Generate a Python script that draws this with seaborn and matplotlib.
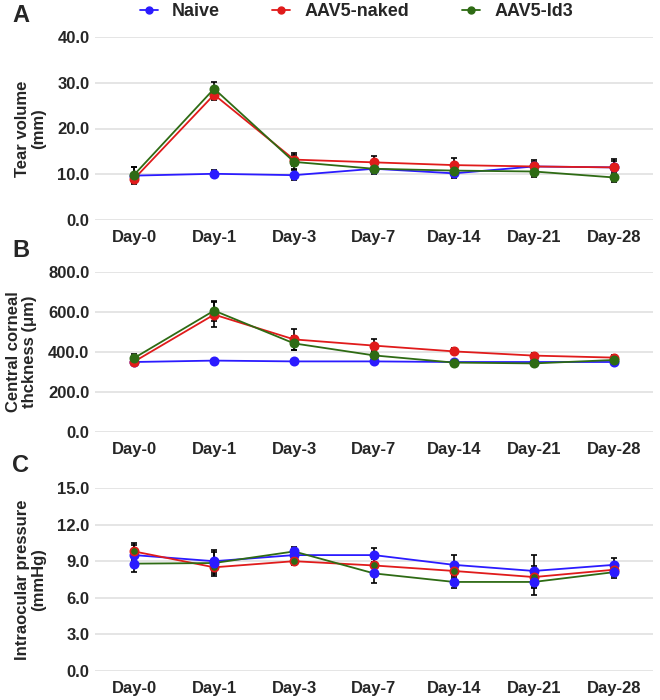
import numpy as np
import pandas as pd
import matplotlib
matplotlib.use("Agg")
import matplotlib.pyplot as plt
import seaborn as sns
from matplotlib.lines import Line2D

sns.set_theme(style="white")
plt.rcParams['font.family'] = ['Liberation Sans Narrow', 'Liberation Sans', 'DejaVu Sans']

dias = ["Day-0", "Day-1", "Day-3", "Day-7", "Day-14", "Day-21", "Day-28"]
grupos = ["Naive", "AAV5-naked", "AAV5-Id3"]

# Panel A - tear volume
tear_naive = [9.7, 10.1, 9.8, 11.2, 10.2, 11.7, 11.5]
tear_naked = [9.0, 27.4, 13.2, 12.6, 12.0, 11.7, 11.5]
tear_id3 = [9.9, 28.7, 12.7, 11.2, 10.8, 10.6, 9.3]
tear_naive_err = [1.9, 0.8, 1.1, 1.2, 1.0, 1.4, 1.8]
tear_naked_err = [0.9, 1.2, 1.4, 1.4, 1.6, 1.0, 1.4]
tear_id3_err = [1.6, 1.5, 1.6, 1.0, 0.9, 1.3, 1.1]

# Panel B - central corneal thickness
cct_naive = [350, 357, 353, 353, 350, 350, 350]
cct_naked = [352, 587, 463, 432, 403, 382, 372]
cct_id3 = [370, 607, 443, 383, 347, 343, 360]
cct_naive_err = [10, 8, 12, 12, 10, 10, 12]
cct_naked_err = [12, 64, 52, 33, 15, 14, 14]
cct_id3_err = [22, 50, 35, 20, 10, 14, 12]

# Panel C - intraocular pressure
iop_naive = [9.5, 9.0, 9.5, 9.5, 8.7, 8.2, 8.7]
iop_naked = [9.8, 8.5, 9.0, 8.65, 8.2, 7.7, 8.3]
iop_id3 = [8.8, 8.85, 9.8, 8.0, 7.3, 7.3, 8.1]
iop_naive_err = [0.8, 0.9, 0.4, 0.6, 0.8, 1.3, 0.6]
iop_naked_err = [0.7, 0.7, 0.3, 0.5, 0.6, 0.9, 0.5]
iop_id3_err = [0.7, 0.9, 0.4, 0.8, 0.5, 1.1, 0.5]

colores = {"Naive": "#2b1bff", "AAV5-naked": "#e01b1b", "AAV5-Id3": "#2e6b14"}

paneles = [
    ("A", "Tear volume\n(mm)", [tear_naive, tear_naked, tear_id3],
     [tear_naive_err, tear_naked_err, tear_id3_err], [0, 10, 20, 30, 40]),
    ("B", "Central corneal\nthckness (\u03bcm)", [cct_naive, cct_naked, cct_id3],
     [cct_naive_err, cct_naked_err, cct_id3_err], [0, 200, 400, 600, 800]),
    ("C", "Intraocular pressure\n(mmHg)", [iop_naive, iop_naked, iop_id3],
     [iop_naive_err, iop_naked_err, iop_id3_err], [0, 3, 6, 9, 12, 15]),
]

# posiciones de los ejes en pixeles (arriba, abajo)
W, H = 660, 700
cajas = [(37, 220), (272, 432), (488, 671)]
x0, x1 = 95, 653

fig = plt.figure(figsize=(6.6, 7.0), dpi=100)

for (letra, etiqueta, series, errores, ticks), (top, bot) in zip(paneles, cajas):
    ax = fig.add_axes([x0 / W, 1 - bot / H, (x1 - x0) / W, (bot - top) / H])
    xs = np.arange(len(dias))
    for g, vals, errs in zip(grupos, series, errores):
        ax.errorbar(xs, vals, yerr=errs, fmt="none", ecolor="black",
                    elinewidth=1.2, capsize=2, capthick=1.2, zorder=2)
    for g, vals in zip(grupos, series):
        df = pd.DataFrame({"x": xs, "y": vals})
        mface = colores[g]
        medge = colores[g]
        # en el panel C los marcadores vienen cruzados en el original
        if letra == "C" and g == "AAV5-Id3":
            mface = medge = colores["Naive"]
        if letra == "C" and g == "AAV5-naked":
            mface = colores["AAV5-Id3"]
        sns.lineplot(data=df, x="x", y="y", ax=ax, color=colores[g], linewidth=1.3,
                     marker="o", markersize=6, markerfacecolor=mface,
                     markeredgecolor=medge, markeredgewidth=1.2, zorder=3)
    ax.set_xlim(-0.49, 6.49)
    ax.set_ylim(ticks[0], ticks[-1])
    ax.set_yticks(ticks)
    ax.set_yticklabels([f"{t:.1f}" for t in ticks], fontsize=12, fontweight="bold")
    ax.set_xticks(xs)
    ax.set_xticklabels(dias, fontsize=12, fontweight="bold")
    ax.tick_params(axis="y", length=0, pad=4)
    ax.tick_params(axis="x", length=0, pad=7)
    ax.grid(axis="y", color="#e0e0e0", linewidth=1.2, zorder=0)
    ax.set_axisbelow(True)
    for s in ax.spines.values():
        s.set_visible(False)
    ax.set_xlabel("")
    ax.set_ylabel(etiqueta, fontsize=12, fontweight="bold", family=["Liberation Sans", "DejaVu Sans"],
                  linespacing=1.1, labelpad=8)
    fig.text(12 / W, 1 - (top - 22) / H, letra, fontsize=17, fontweight="bold",
             family=["Liberation Sans", "DejaVu Sans"], va="center", ha="left")

handles = [Line2D([0], [0], color=colores[g], marker="o", markersize=5, linewidth=1.3)
           for g in grupos]
fig.legend(handles, grupos, loc="center", bbox_to_anchor=(0.54, 1 - 12 / H), ncol=3,
           frameon=False, handlelength=1.0, handletextpad=0.8, columnspacing=2.9,
           prop={"family": ["Liberation Sans", "DejaVu Sans"], "weight": "bold", "size": 13})

fig.savefig("out.png", dpi=100)
